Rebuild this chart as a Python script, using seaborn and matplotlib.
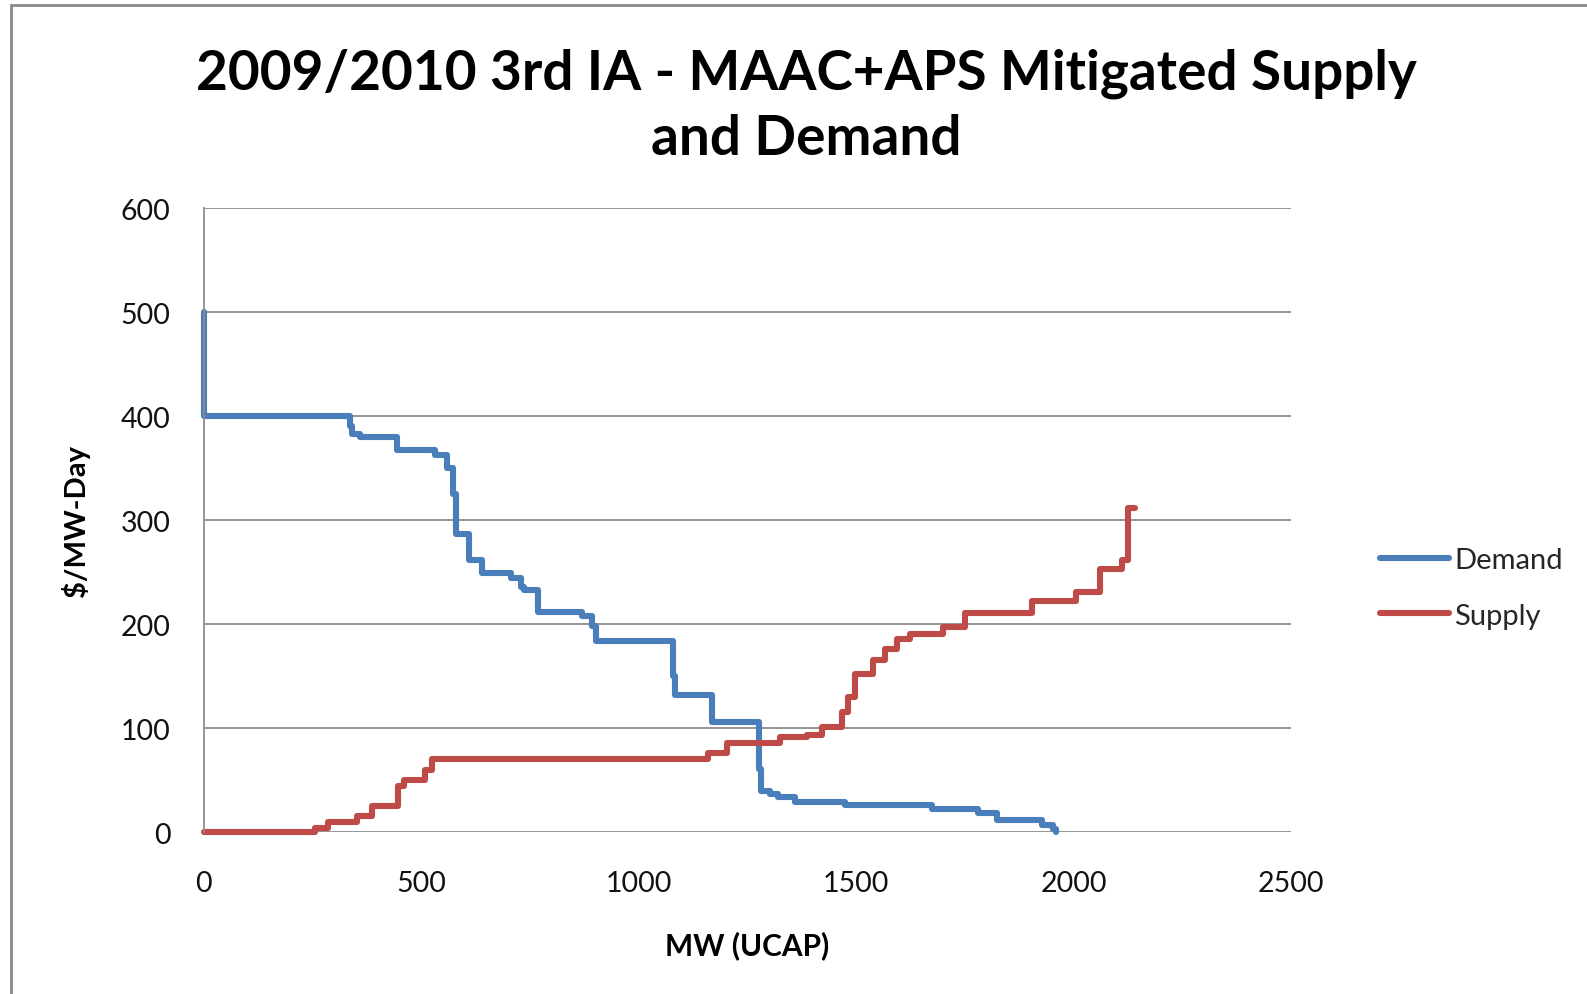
import numpy as np
import pandas as pd
import seaborn as sns
import matplotlib.pyplot as plt
from matplotlib.patches import Rectangle

# step breakpoints (MW UCAP, $/MW-Day)
demand_mw = [0, 0, 335, 340, 359, 444, 531, 558, 573, 580, 610, 639, 706, 729, 737,
             768, 869, 892, 902, 1078, 1083, 1168, 1277, 1280, 1302, 1321, 1360,
             1475, 1675, 1781, 1824, 1927, 1953, 1960]
demand_price = [500, 400, 390, 383, 380, 367, 363, 350, 325, 287, 262, 249, 244, 236, 233,
                212, 208, 198, 184, 150, 132, 106, 61, 39, 37, 34, 29,
                26, 22, 18, 12, 7, 3, 0]

supply_mw = [0, 255, 285, 352, 386, 446, 460, 508, 524, 1159, 1202, 1325, 1387, 1421,
             1467, 1481, 1497, 1539, 1566, 1594, 1624, 1700, 1750, 1904, 2005, 2060,
             2111, 2126, 2141]
supply_price = [0, 4, 10, 15, 25, 44, 50, 60, 70, 76, 86, 91, 93, 101,
                115, 130, 152, 165, 176, 186, 190, 197, 211, 222, 231, 253,
                262, 312, 312]

x_ticks = [0, 500, 1000, 1500, 2000, 2500]
y_ticks = [0, 100, 200, 300, 400, 500, 600]

df = pd.concat([
    pd.DataFrame({'MW': demand_mw, 'Price': demand_price, 'Series': 'Demand'}),
    pd.DataFrame({'MW': supply_mw, 'Price': supply_price, 'Series': 'Supply'}),
], ignore_index=True)

sns.set_style('white')
plt.rcParams['font.family'] = ['Lato', 'DejaVu Sans']

fig = plt.figure(figsize=(15.87, 9.95), dpi=100)
ax = fig.add_axes([0.1285, 0.1628, 0.685, 0.6271])

sns.lineplot(data=df, x='MW', y='Price', hue='Series',
             palette={'Demand': '#4A7EBB', 'Supply': '#BE4B48'},
             estimator=None, sort=False, drawstyle='steps-post',
             linewidth=4.4, solid_capstyle='round', solid_joinstyle='round',
             clip_on=False, ax=ax)

ax.set_xlim(0, 2500)
ax.set_ylim(0, 600)
ax.set_xticks(x_ticks)
ax.set_yticks(y_ticks)
ax.grid(axis='y', color='#8c8c8c', linewidth=1.3)
ax.set_axisbelow(True)
for side in ['top', 'right', 'bottom']:
    ax.spines[side].set_visible(False)
ax.spines['left'].set_color('#8c8c8c')
ax.spines['left'].set_linewidth(1.3)
ax.tick_params(axis='both', length=0, labelsize=20.5, colors='#111111')
ax.tick_params(axis='x', pad=27)
ax.tick_params(axis='y', pad=24)

ax.set_xlabel('MW (UCAP)', fontsize=21.5, fontweight='bold', labelpad=25, color='black')
ax.set_ylabel('$/MW-Day', fontsize=21, fontweight='bold', labelpad=22, color='black')

fig.text(0.508, 0.8935, '2009/2010 3rd IA - MAAC+APS Mitigated Supply\nand Demand',
         ha='center', va='center', fontsize=39.5, fontweight='bold',
         linespacing=1.36, color='black')

handles, labels = ax.get_legend_handles_labels()
ax.legend_.remove()
fig.legend(handles, labels, loc='center left', bbox_to_anchor=(0.853, 0.408),
           frameon=False, fontsize=21, handlelength=2.35, handletextpad=0.2,
           labelspacing=1.0)

# outer chart-area frame, cropped on the right and bottom
fig.patches.append(Rectangle((10.5 / 1587, -0.1), 1.2, 1.1 - 6 / 995,
                             transform=fig.transFigure, fill=False,
                             edgecolor='#8a8a8a', linewidth=2))

fig.savefig('out.png', dpi=100)
